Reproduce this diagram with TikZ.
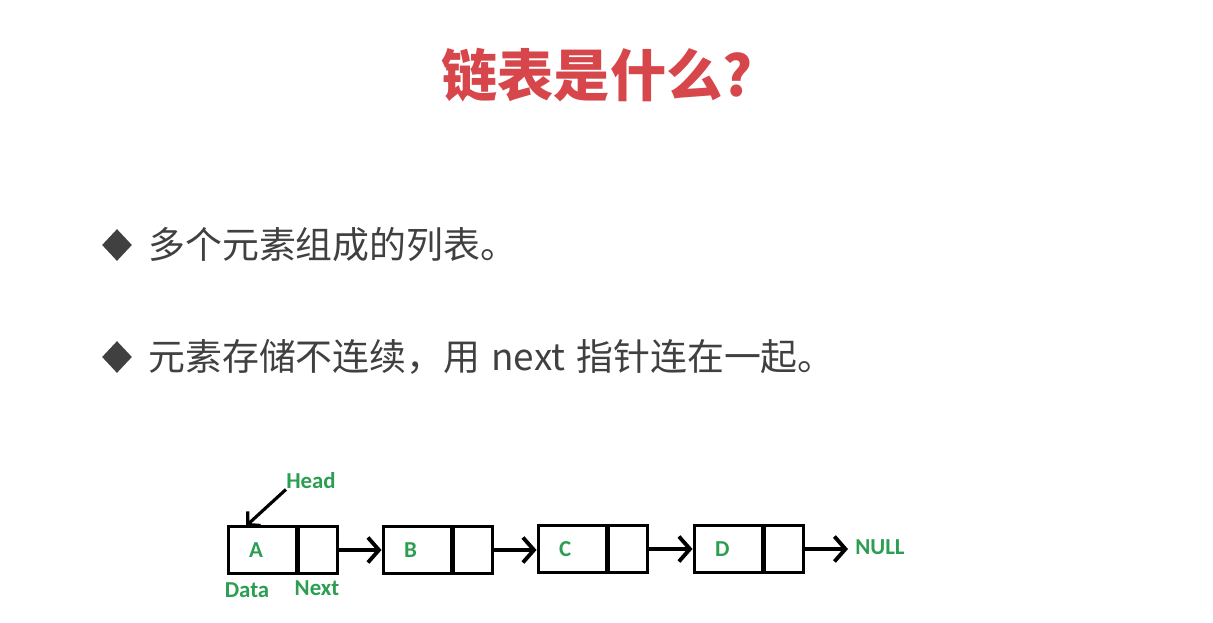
\documentclass[tikz,border=0pt]{standalone}
\usepackage{fontspec}
\setmainfont{Noto Sans CJK SC}
\newfontfamily\labelfont{Carlito}
\usetikzlibrary{positioning,shapes.geometric,arrows.meta}

\definecolor{titlered}{RGB}{214,70,75}
\definecolor{textgrey}{RGB}{64,64,64}
\definecolor{labelgreen}{RGB}{44,158,82}

\begin{document}
\begin{tikzpicture}[
    x=0.02cm, y=-0.02cm,
    bullet/.style={diamond, fill=textgrey, inner sep=0pt, minimum width=0.6cm, minimum height=0.64cm},
    itemtext/.style={anchor=west, inner sep=0pt, text=textgrey, font=\fontsize{21}{25}\selectfont},
    lbl/.style={inner sep=0pt, text=labelgreen, font=\labelfont\bfseries\fontsize{13}{15}\selectfont},
    datacell/.style={draw, line width=1.7pt, minimum width=1.36cm, minimum height=0.94cm, inner sep=0pt, text width=0.52cm, align=left, text=labelgreen, font=\labelfont\bfseries\fontsize{13}{15}\selectfont},
    nextcell/.style={draw, line width=1.7pt, minimum width=0.78cm, minimum height=0.94cm, inner sep=0pt},
    link/.style={line width=2.2pt, -{Straight Barb[length=0.22cm, width=0.5cm]}}
]
\useasboundingbox (0,0) rectangle (1213,622);

% Title
\node[text=titlered, font=\bfseries\fontsize{32}{38}\selectfont] (title) at (597,75) {链表是什么?};

% Bullet points
\node[bullet] (b1) at (117,245) {};
\node[itemtext] (t1) at (148,245) {多个元素组成的列表。};
\node[bullet] (b2) at (117,357) {};
\node[itemtext] (t2) at (148,357) {元素存储不连续，用\hspace{0.3em}next\hspace{0.3em}指针连在一起。};

% List cells
\node[datacell] (a) at (262,550) {A};
\node[nextcell, right=0pt of a] (an) {};
\node[datacell] (b) at (417,550) {B};
\node[nextcell, right=0pt of b] (bn) {};
\node[datacell] (c) at (572,549) {C};
\node[nextcell, right=0pt of c] (cn) {};
\node[datacell] (d) at (728,549) {D};
\node[nextcell, right=0pt of d] (dn) {};

% Labels
\node[lbl, anchor=west] (null) at (855,547) {NULL};
\node[lbl] (head) at (311,481) {Head};
\node[lbl] (datalbl) at (247,590) {Data};
\node[lbl] (nextlbl) at (317,588) {Next};
\coordinate (headtip) at (246,526);

% Arrows
\draw[link] (an.east) -- (b.west);
\draw[link] (bn.east) -- (bn.east -| c.west);
\draw[link] (cn.east) -- (d.west);
\draw[link, shorten >=0.14cm] (dn.east) -- (dn.east -| null.west);
\draw[line width=1.8pt, -{Straight Barb[length=0.18cm, width=0.38cm]}] (head.south west) -- (headtip);

\end{tikzpicture}
\end{document}
